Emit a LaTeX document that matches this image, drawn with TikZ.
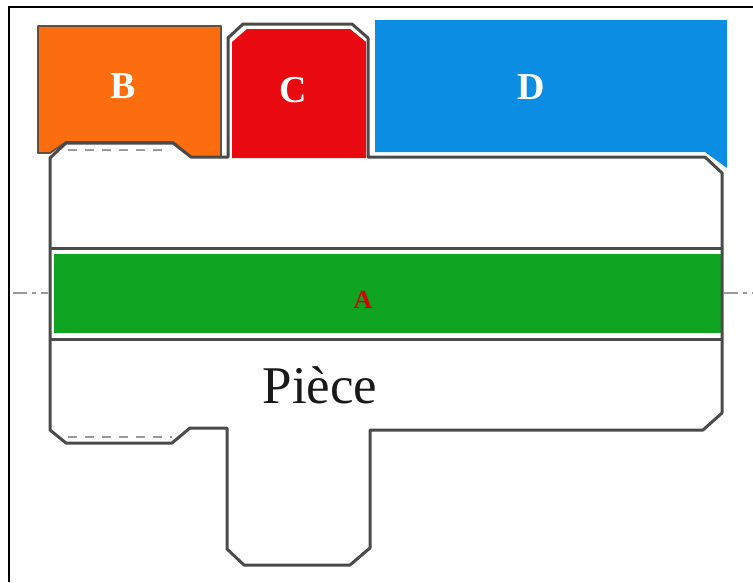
\documentclass[tikz,border=0pt]{standalone}
\usepackage{fontspec}
\setmainfont{Liberation Serif}
\definecolor{orangeB}{HTML}{FB6D0E}
\definecolor{redC}{HTML}{E80A10}
\definecolor{blueD}{HTML}{0A8DE2}
\definecolor{greenA}{HTML}{0EA321}
\definecolor{partline}{HTML}{4A4A4A}
\tikzset{
  partedge/.style={draw=partline,line width=3pt,line join=round},
  rawedge/.style={draw=partline!85!orangeB,line width=1.8pt,line join=round},
  hidden/.style={draw=partline!55!white,line width=2pt,dash pattern=on 9pt off 8pt},
  axisline/.style={draw=gray!80,line width=2pt,dash pattern=on 14pt off 5pt on 4pt off 5pt},
  letterlabel/.style={text=white,font=\bfseries\fontsize{38}{38}\selectfont,inner sep=0pt}
}
\begin{document}
\begin{tikzpicture}[x=1pt,y=-1pt]
\useasboundingbox (0,0) rectangle (753,582);
\fill[white] (0,0) rectangle (753,582);
% cutting zones
\fill[orangeB,rawedge] (38,26) -- (221,26) -- (221,157) -- (191,157) -- (173,142) -- (66,142) -- (50,153) -- (38,153) -- cycle;
\fill[redC] (232,42) -- (247,29) -- (350,29) -- (366,42) -- (366,158) -- (232,158) -- cycle;
\fill[blueD] (375,20) -- (727,20) -- (727,168) -- (705,152) -- (375,152) -- cycle;
\fill[greenA] (54,254) -- (721,254) -- (721,333) -- (54,333) -- cycle;
% part outline
\draw[partedge] (50,158) -- (66,143) -- (173,143) -- (191,157) -- (228,157) -- (228,38) -- (243,24) -- (352,24) -- (368,38) -- (368,157) -- (705,157) -- (722,173) -- (722,413) -- (703,430) -- (370,430) -- (370,548) -- (350,565) -- (244,565) -- (227,549) -- (227,428) -- (190,428) -- (172,443) -- (66,443) -- (50,430) -- cycle;
\draw[partedge] (50,248) -- (722,248);
\draw[partedge] (50,339) -- (722,339);
% thread hidden lines
\draw[hidden] (68,150) -- (170,150);
\draw[hidden] (68,437) -- (172,437);
% axis
\draw[axisline] (13,293) -- (48,293);
\draw[axisline] (724,293) -- (753,293);
% frame
\draw[black,line width=2.6pt] (9,582) -- (9,7) -- (753,7);
% labels
\node[letterlabel] (labelB) at (123,86) {B};
\node[letterlabel] (labelC) at (293,90) {C};
\node[letterlabel] (labelD) at (531,87) {D};
\node[text=red!85!black,font=\bfseries\fontsize{26}{26}\selectfont,inner sep=0pt] (labelA) at (363,300) {A};
\node[text=black!90,font=\fontsize{53}{53}\selectfont,inner sep=0pt] (labelPiece) at (320,385) {Pièce};
\end{tikzpicture}
\end{document}
